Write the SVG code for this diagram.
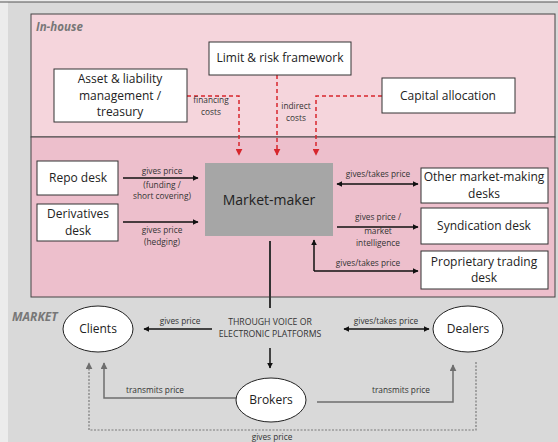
<svg xmlns="http://www.w3.org/2000/svg" width="558" height="442" viewBox="0 0 558 442">
<defs>
<style>
.box{fill:#fff;stroke:#333;stroke-width:1}
.t{font-family:"Open Sans","Noto Sans",sans-serif;font-size:12px;fill:#222;text-anchor:middle}
.s{font-family:"Open Sans","Noto Sans",sans-serif;font-size:8.3px;fill:#333;text-anchor:middle}
.cap{font-family:"Open Sans","Noto Sans",sans-serif;font-size:8.7px;fill:#333;text-anchor:middle}
.lab{font-family:"Open Sans","Noto Sans",sans-serif;font-size:11.5px;font-style:italic;font-weight:bold;fill:#777}
.red{fill:none;stroke:#d7262c;stroke-width:1.5;stroke-dasharray:4 3}
.blk{fill:none;stroke:#111;stroke-width:1.5}
.gry{fill:none;stroke:#6e6e6e;stroke-width:1.5}
.dot{fill:none;stroke:#7a7a7a;stroke-width:1.2;stroke-dasharray:2 1.5}
.ell{fill:#fff;stroke:#222;stroke-width:1}
</style>
<marker id="ab" viewBox="0 0 10 10" refX="9" refY="5" markerWidth="6" markerHeight="6" orient="auto-start-reverse" markerUnits="userSpaceOnUse"><path d="M0,0 L10,5 L0,10 z" fill="#111"/></marker>
<marker id="ar" viewBox="0 0 10 10" refX="9" refY="5" markerWidth="7" markerHeight="7" orient="auto" markerUnits="userSpaceOnUse"><path d="M0,0 L10,5 L0,10 z" fill="#d7262c"/></marker>
<marker id="ag" viewBox="0 0 10 10" refX="9" refY="5" markerWidth="7" markerHeight="7" orient="auto" markerUnits="userSpaceOnUse"><path d="M0,0 L10,5 L0,10 z" fill="#6e6e6e"/></marker>
</defs>
<rect x="0" y="0" width="558" height="442" fill="#ececec"/>
<rect x="8" y="2" width="550" height="440" fill="#d9d9d9"/>
<line x1="0" y1="2" x2="558" y2="2" stroke="#555" stroke-width="1.2"/>
<g id="inhouse">
<rect x="31" y="14" width="524" height="123" fill="#f5d5dc" stroke="#444" stroke-width="1"/>
<rect x="31" y="137" width="524" height="160" fill="#edbfcc" stroke="#444" stroke-width="1"/>
<text class="lab" x="36" y="31">In-house</text>
</g>
<text class="lab" x="12" y="321" style="font-size:12px">MARKET</text>
<g id="connectors">
<path class="red" d="M187,96 H239 V155" marker-end="url(#ar)"/>
<path class="red" d="M277,75 V155" marker-end="url(#ar)"/>
<path class="red" d="M382,96 H316 V155" marker-end="url(#ar)"/>
<text class="s" x="211" y="103">financing</text>
<text class="s" x="211" y="114.5">costs</text>
<text class="s" x="296" y="109">indirect</text>
<text class="s" x="296" y="120.5">costs</text>
<path class="blk" d="M123,178 H198" marker-end="url(#ab)"/>
<text class="s" x="162" y="174">gives price</text>
<text class="s" x="162" y="187.5">(funding /</text>
<text class="s" x="162" y="199">short covering)</text>
<path class="blk" d="M123,222 H198" marker-end="url(#ab)"/>
<text class="s" x="162" y="233">gives price</text>
<text class="s" x="162" y="244.5">(hedging)</text>
<path class="blk" d="M337,184 H418" marker-start="url(#ab)" marker-end="url(#ab)"/>
<text class="s" x="378" y="177">gives/takes price</text>
<path class="blk" d="M337,227 H418" marker-end="url(#ab)"/>
<text class="s" x="378" y="220">gives price /</text>
<text class="s" x="378" y="234">market</text>
<text class="s" x="378" y="245.5">intelligence</text>
<path class="blk" d="M314,271 H418" marker-end="url(#ab)"/>
<path class="blk" d="M314,271 V240" marker-end="url(#ab)"/>
<text class="s" x="368" y="266">gives/takes price</text>
<path d="M270,241 V308" stroke="#333" stroke-width="2" fill="none"/>
<text class="cap" x="270" y="325">THROUGH VOICE OR</text>
<text class="cap" x="270" y="337">ELECTRONIC PLATFORMS</text>
<path class="blk" d="M212,329 H144" marker-end="url(#ab)"/>
<text class="s" x="180" y="324">gives price</text>
<path class="blk" d="M344,329 H429" marker-start="url(#ab)" marker-end="url(#ab)"/>
<text class="s" x="386" y="324">gives/takes price</text>
<path class="blk" d="M270,348 V368" marker-end="url(#ab)"/>
<path class="gry" d="M236,398 H104 V363" marker-end="url(#ag)"/>
<text class="s" x="155" y="393">transmits price</text>
<path class="gry" d="M317,402 H453 V365" marker-end="url(#ag)"/>
<text class="s" x="401" y="393">transmits price</text>
<path class="dot" d="M476,362 V430 H89 V363" marker-end="url(#ag)"/>
<text class="s" x="272" y="440">gives price</text>
</g>
<g id="limit"><rect class="box" x="209" y="42" width="142" height="33"/><text class="t" x="280" y="62">Limit &amp; risk framework</text></g>
<g id="alm"><rect class="box" x="54" y="69" width="133" height="53"/><text class="t" x="120" y="83">Asset &amp; liability</text><text class="t" x="120" y="99.5">management /</text><text class="t" x="120" y="116">treasury</text></g>
<g id="capital"><rect class="box" x="382" y="78" width="133" height="35"/><text class="t" x="448" y="100">Capital allocation</text></g>
<g id="marketmaker"><rect x="205" y="163" width="128" height="73" fill="#a6a6a6"/><text class="t" x="269" y="205" style="font-size:14px">Market-maker</text></g>
<g id="repo"><rect class="box" x="37" y="161" width="81" height="34"/><text class="t" x="78" y="182">Repo desk</text></g>
<g id="deriv"><rect class="box" x="37" y="204" width="81" height="37"/><text class="t" x="78" y="218">Derivatives</text><text class="t" x="78" y="234.5">desk</text></g>
<g id="othermm"><rect class="box" x="421" y="168" width="127" height="35"/><text class="t" x="484" y="181">Other market-making</text><text class="t" x="484" y="197.5">desks</text></g>
<g id="synd"><rect class="box" x="421" y="208" width="127" height="36"/><text class="t" x="484" y="230">Syndication desk</text></g>
<g id="prop"><rect class="box" x="421" y="251" width="127" height="38"/><text class="t" x="484" y="265.5">Proprietary trading</text><text class="t" x="484" y="282">desk</text></g>
<g id="clients"><ellipse class="ell" cx="98" cy="329" rx="35" ry="23"/><text class="t" x="98" y="333">Clients</text></g>
<g id="dealers"><ellipse class="ell" cx="468" cy="329" rx="35" ry="23"/><text class="t" x="468" y="333">Dealers</text></g>
<g id="brokers"><ellipse class="ell" cx="271" cy="400" rx="35" ry="22"/><text class="t" x="271" y="404">Brokers</text></g>
</svg>
